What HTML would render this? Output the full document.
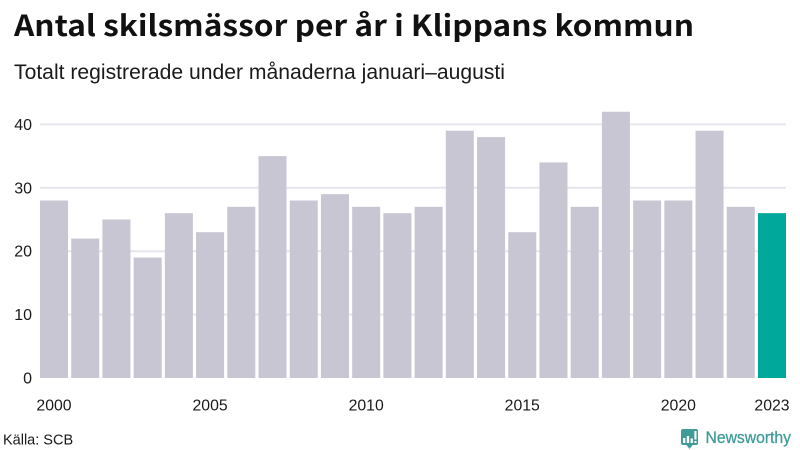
<!DOCTYPE html>
<html lang="sv">
<head>
<meta charset="utf-8">
<title>Antal skilsmässor per år i Klippans kommun</title>
<style>
html,body{margin:0;padding:0;background:#fff;width:800px;height:450px;overflow:hidden}
svg{display:block}
text{font-family:"Liberation Sans",Arial,sans-serif;fill:#1a1a1a}
</style>
</head>
<body>
<svg id="chart" width="800" height="450" viewBox="0 0 800 450" xmlns="http://www.w3.org/2000/svg">
  <text x="14" y="36" font-size="29" font-weight="700" textLength="680" lengthAdjust="spacingAndGlyphs" style="font-family:'Noto Sans CJK SC','Liberation Sans',sans-serif;fill:#111">Antal skilsmässor per år i Klippans kommun</text>
  <text x="14" y="79" font-size="21" textLength="491" lengthAdjust="spacingAndGlyphs">Totalt registrerade under månaderna januari–augusti</text>
  <g id="grid"></g>
  <g id="bars"></g>
  <g id="yticks"></g>
  <g id="xticks"></g>
  <text x="3" y="444.5" font-size="14.5">Källa: SCB</text>
  <g>
    <path d="M683 429h13a2 2 0 0 1 2 2v12a2 2 0 0 1-2 2h-3.5l-3 4-3-4h-3.5a2 2 0 0 1-2-2v-12a2 2 0 0 1 2-2z" fill="#3f9c98"/>
    <rect x="683" y="438" width="2.3" height="5" fill="#fff"/>
    <rect x="686.8" y="436" width="2.3" height="7" fill="#fff"/>
    <rect x="690.6" y="438.5" width="2.3" height="4.5" fill="#fff"/>
    <rect x="694.4" y="431" width="2.1" height="8.5" fill="#fff"/>
    <rect x="694.4" y="441" width="2.1" height="2" fill="#fff"/>
    <text x="705.5" y="443" font-size="16.5" textLength="85.5" lengthAdjust="spacingAndGlyphs" style="fill:#3f9c98;stroke:#3f9c98;stroke-width:.3">Newsworthy</text>
  </g>
</svg>
<script>
const years = [2000,2001,2002,2003,2004,2005,2006,2007,2008,2009,2010,2011,2012,2013,2014,2015,2016,2017,2018,2019,2020,2021,2022,2023];
const divorces = [28,22,25,19,26,23,27,35,28,29,27,26,27,39,38,23,34,27,42,28,28,39,27,26];
const yTickValues = [0,10,20,30,40];
const xTickLabels = [2000,2005,2010,2015,2020,2023];
const highlightYear = 2023;

const NS = 'http://www.w3.org/2000/svg';
const plotLeft = 40, plotRight = 786, plotBottom = 378, unitPx = 6.34;
const pitch = (plotRight - plotLeft + 3.2) / years.length;
const barW = pitch - 3.2;
const yScale = function (v) { return plotBottom - v * unitPx; };
const xScale = function (i) { return plotLeft + i * pitch; };

function make(tag, attrs, parent, txt) {
  const el = document.createElementNS(NS, tag);
  for (const k in attrs) el.setAttribute(k, attrs[k]);
  if (txt !== undefined) el.textContent = txt;
  document.getElementById(parent).appendChild(el);
  return el;
}

yTickValues.forEach(function (t) {
  const y = yScale(t);
  if (t !== 0) {
    const line = make('line', {x1: 40, x2: 786, y1: y, y2: y, stroke: '#e6e6ec', 'stroke-width': 2}, 'grid');
    
    
  }
  const lab = make('text', {x: 32, y: y + 5.5, 'text-anchor': 'end', 'font-size': 16}, 'yticks', t);
  
  
});

years.forEach(function (yr, i) {
  const v = divorces[i];
  const r = make('rect', {x: xScale(i), y: yScale(v), width: barW, height: v * unitPx, fill: yr === highlightYear ? '#00a79b' : '#c8c6d3'}, 'bars');
  
  
});

xTickLabels.forEach(function (yr) {
  const i = years.indexOf(yr);
  const lab = make('text', {x: xScale(i) + barW / 2, y: 410.5, 'text-anchor': 'middle', 'font-size': 15.8}, 'xticks', yr);
  
  
});
</script>
</body>
</html>
